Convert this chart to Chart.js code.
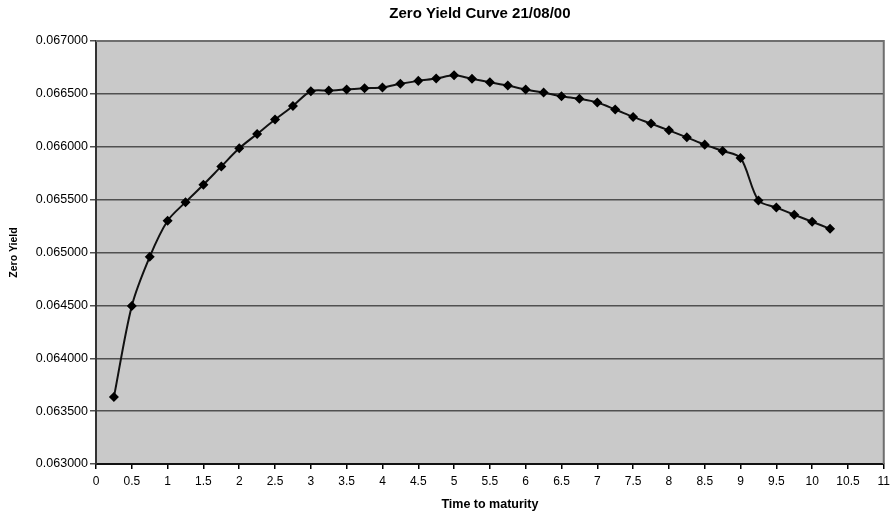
<!DOCTYPE html>
<html>
<head>
<meta charset="utf-8">
<script src="https://cdn.jsdelivr.net/npm/chart.js@4.4.1/dist/chart.umd.min.js"></script>
<style>
  html, body { margin: 0; padding: 0; background: #fff; }
  #wrap { width: 895px; height: 512px; }
</style>
</head>
<body>
<div id="wrap"><canvas id="curve" width="895" height="512"></canvas></div>
<script>
// Zero yield curve as of 21/08/00
const chartTitle = 'Zero Yield Curve 21/08/00';
const maturities = [0.25, 0.5, 0.75, 1, 1.25, 1.5, 1.75, 2, 2.25, 2.5, 2.75, 3,
  3.25, 3.5, 3.75, 4, 4.25, 4.5, 4.75, 5, 5.25, 5.5, 5.75, 6, 6.25, 6.5, 6.75, 7,
  7.25, 7.5, 7.75, 8, 8.25, 8.5, 8.75, 9, 9.25, 9.5, 9.75, 10, 10.25];
const zeroYields = [0.063633, 0.064495, 0.064959, 0.065300, 0.065476, 0.065641, 0.065814, 0.065985,
  0.066121, 0.066257, 0.066386, 0.066525, 0.066531, 0.066541, 0.066553, 0.066560,
  0.066595, 0.066623, 0.066645, 0.066676, 0.066642, 0.066610, 0.066579, 0.066541,
  0.066512, 0.066477, 0.066453, 0.066418, 0.066352, 0.066282, 0.066219, 0.066155,
  0.066089, 0.066020, 0.065960, 0.065894, 0.065492, 0.065426, 0.065357, 0.065291, 0.065224];
const xTickValues = [0, 0.5, 1, 1.5, 2, 2.5, 3, 3.5, 4, 4.5, 5, 5.5, 6, 6.5, 7, 7.5, 8, 8.5, 9, 9.5, 10, 10.5, 11];
const yTickValues = [0.063, 0.0635, 0.064, 0.0645, 0.065, 0.0655, 0.066, 0.0665, 0.067];

const FONT = 'Liberation Sans, Arial, Helvetica, sans-serif';

// grey plot background, frame and title
const plotDecor = {
  id: 'plotDecor',
  beforeDraw(chart) {
    const { ctx, chartArea: a } = chart;
    ctx.save();
    ctx.fillStyle = '#c9c9c9';
    ctx.fillRect(a.left, a.top, a.right - a.left, a.bottom - a.top);
    ctx.restore();
  },
  afterDatasetsDraw(chart) {
    const { ctx, chartArea: a } = chart;
    ctx.save();
    ctx.strokeStyle = '#6e6e6e';
    ctx.lineWidth = 2;
    ctx.beginPath();
    ctx.moveTo(a.left, a.top);
    ctx.lineTo(a.right, a.top);
    ctx.lineTo(a.right, a.bottom);
    ctx.stroke();
    ctx.restore();
  },
  afterDraw(chart) {
    const { ctx, chartArea: a } = chart;
    ctx.save();
    ctx.fillStyle = '#000';
    ctx.font = 'bold 15px ' + FONT;
    ctx.textAlign = 'center';
    ctx.textBaseline = 'middle';
    ctx.fillText(chartTitle, (a.left + a.right) / 2 - 10, 14);
    ctx.restore();
  }
};

const points = maturities.map((m, i) => ({ x: m, y: zeroYields[i] }));

new Chart(document.getElementById('curve'), {
  type: 'line',
  data: {
    datasets: [{
      label: 'Zero Yield',
      data: points,
      borderColor: '#111',
      borderWidth: 2,
      backgroundColor: '#000',
      pointStyle: 'rectRot',
      pointRadius: 3.6,
      pointBackgroundColor: '#000',
      pointBorderColor: '#000',
      tension: 0.3
    }]
  },
  options: {
    responsive: false,
    devicePixelRatio: 1,
    animation: false,
    layout: { padding: { top: 41, right: 10, left: 0, bottom: 0 } },
    plugins: {
      legend: { display: false },
      title: { display: false },
      tooltip: { enabled: false }
    },
    scales: {
      x: {
        type: 'linear',
        min: 0,
        max: 11,
        afterBuildTicks: s => { s.ticks = xTickValues.map(v => ({ value: v })); },
        afterFit: s => { s.height = 48; },
        grid: { drawOnChartArea: false, drawTicks: true, tickLength: 5, color: '#000', lineWidth: 1.5 },
        border: { color: '#111', width: 2 },
        ticks: {
          color: '#000',
          padding: 5,
          maxRotation: 0,
          autoSkip: false,
          font: { family: FONT, size: 12 },
          callback: v => String(v)
        },
        title: {
          display: true,
          text: 'Time to maturity',
          color: '#000',
          padding: { top: 0, bottom: 0 },
          font: { family: FONT, size: 12.5, weight: 'bold' }
        }
      },
      y: {
        type: 'linear',
        min: 0.063,
        max: 0.067,
        afterBuildTicks: s => { s.ticks = yTickValues.map(v => ({ value: v })); },
        afterFit: s => { s.width = 96; },
        grid: { color: '#505050', lineWidth: 1.5, tickLength: 6, drawTicks: true },
        border: { color: '#333', width: 2 },
        ticks: {
          color: '#000',
          padding: 2,
          autoSkip: false,
          font: { family: FONT, size: 12.5 },
          callback: v => Number(v).toFixed(6)
        },
        title: {
          display: true,
          text: 'Zero Yield',
          color: '#000',
          padding: { top: 8, bottom: 0 },
          font: { family: FONT, size: 10.5, weight: 'bold' }
        }
      }
    }
  },
  plugins: [plotDecor]
});
</script>
</body>
</html>
